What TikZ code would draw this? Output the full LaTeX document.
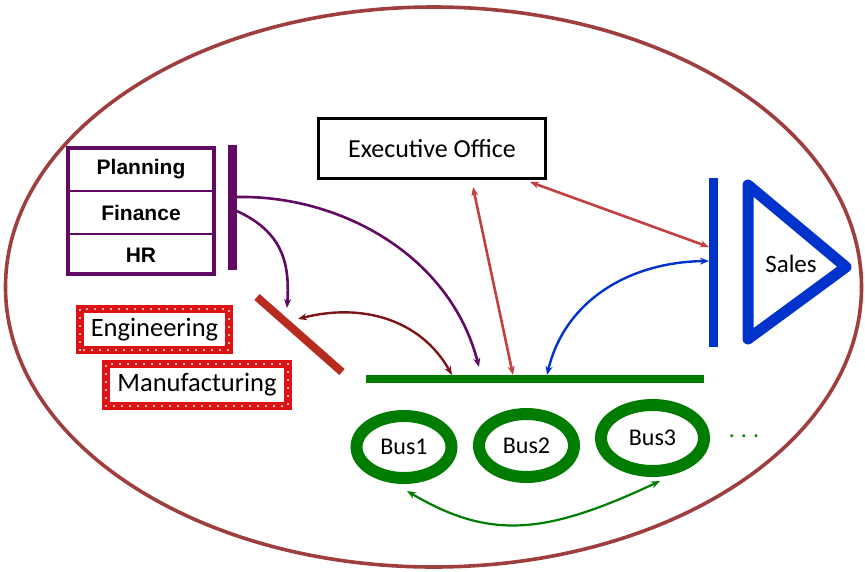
\documentclass[tikz,border=0pt]{standalone}
\usepackage{fontspec}
\setmainfont{Carlito}
\newfontfamily\arialfont{Liberation Sans}
\usetikzlibrary{arrows.meta,shapes.geometric}
\definecolor{ellcol}{RGB}{158,62,62}
\definecolor{purp}{RGB}{96,10,100}
\definecolor{barred}{RGB}{184,44,32}
\definecolor{darkred}{RGB}{124,22,22}
\definecolor{arrred}{RGB}{196,64,64}
\definecolor{blu}{RGB}{0,51,204}
\definecolor{grn}{RGB}{0,125,0}
\definecolor{engred}{RGB}{222,18,18}
\tikzset{
  tip/.style={-{Stealth[length=9pt,width=7pt]}},
  dtip/.style={{Stealth[length=9pt,width=7pt]}-{Stealth[length=9pt,width=7pt]}},
  deptext/.style={font=\arialfont\bfseries\fontsize{21}{24}\selectfont},
  cal/.style={font=\fontsize{26}{30}\selectfont},
  dotbox/.style={draw=engred, line width=8, outer sep=0, inner sep=0, fill=white, font=\fontsize{26.5}{30}\selectfont},
  busnode/.style={ellipse, draw=grn, line width=12, outer sep=0, inner sep=0, font=\fontsize{24}{28}\selectfont},
}
\newcommand{\whitedots}[1]{\draw[white, line width=2.2, dash pattern=on 0pt off 8pt, line cap=round] (#1.south west) rectangle (#1.north east);}
\begin{document}
\begin{tikzpicture}[x=1pt,y=-1pt]
\useasboundingbox (0,0) rectangle (865,571);
% big ellipse
\draw[ellcol, line width=3.6] (433.5,287) ellipse [x radius=428pt, y radius=280pt];

% Planning stack
\draw[purp, line width=3.5] (68,148) rectangle (214,274);
\draw[purp, line width=1.6] (68,191) -- (214,191);
\draw[purp, line width=1.6] (68,234) -- (214,234);
\node[deptext] (plan) at (141,169.5) {Planning};
\node[deptext] (fin) at (141,212.5) {Finance};
\node[deptext] (hr) at (141,255) {HR};
\fill[purp] (228,145) rectangle (237,270);
\coordinate (pbA) at (237,197);
\coordinate (pbB) at (237,211);

% Engineering / Manufacturing
\node[dotbox, minimum width=149, minimum height=41] (eng) at (154.5,329.5) {Engineering};
\whitedots{eng}
\node[dotbox, minimum width=182, minimum height=42] (man) at (197,385) {Manufacturing};
\whitedots{man}

% slanted red bar
\coordinate (sbA) at (257,297);
\coordinate (sbB) at (342,372);
\draw[barred, line width=8] (sbA) -- (sbB);
\coordinate (sbP) at (287,308);
\coordinate (sbR) at (298,319);

% executive office
\node[draw=black, line width=3.5, minimum width=227, minimum height=60, outer sep=0, cal] (exec) at (432,148.5) {Executive Office};
\coordinate (exB) at (473,187);
\coordinate (exR) at (530,182);

% Sales
\fill[blu] (709,178) rectangle (718,347);
\draw[blu, line width=11, line join=round] (748,185) -- (748,339) -- (846,267) -- cycle;
\node[font=\fontsize{25}{29}\selectfont] (sales) at (791,264) {Sales};
\coordinate (sbRed) at (709,247);
\coordinate (sbBlue) at (709,261);

% green bar
\draw[grn, line width=8] (366,379) -- (704,379);
\coordinate (gDR) at (452,375);
\coordinate (gP) at (479,367);
\coordinate (gR) at (513,375);
\coordinate (gB) at (547,375);

% buses
\node[busnode, minimum width=95, minimum height=62] (bus1) at (404,447) {Bus1};
\node[busnode, minimum width=95, minimum height=63] (bus2) at (526.5,445.5) {Bus2};
\node[busnode, minimum width=103, minimum height=66] (bus3) at (652.5,438) {Bus3};
\node[text=grn, font=\fontsize{24}{28}\selectfont] (dots) at (744,436) {.\hspace{6pt}.\hspace{6pt}.};
\coordinate (b1) at (407,491);
\coordinate (b3) at (660,481);

% connectors
\draw[purp, line width=2.6, tip] (pbA) .. controls (340,195) and (450,255) .. (gP);
\draw[purp, line width=2.6, tip] (pbB) .. controls (282,232) and (290,262) .. (sbP);
\draw[darkred, line width=2.4, dtip] (sbR) .. controls (360,303) and (420,318) .. (gDR);
\draw[arrred, line width=2.6, dtip] (gR) -- (exB);
\draw[arrred, line width=2.6, dtip] (exR) -- (sbRed);
\draw[blu, line width=2.4, dtip] (gB) .. controls (565,300) and (630,262) .. (sbBlue);
\draw[grn, line width=2.2, dtip] (b1) .. controls (490,540) and (545,535) .. (b3);
\end{tikzpicture}
\end{document}
